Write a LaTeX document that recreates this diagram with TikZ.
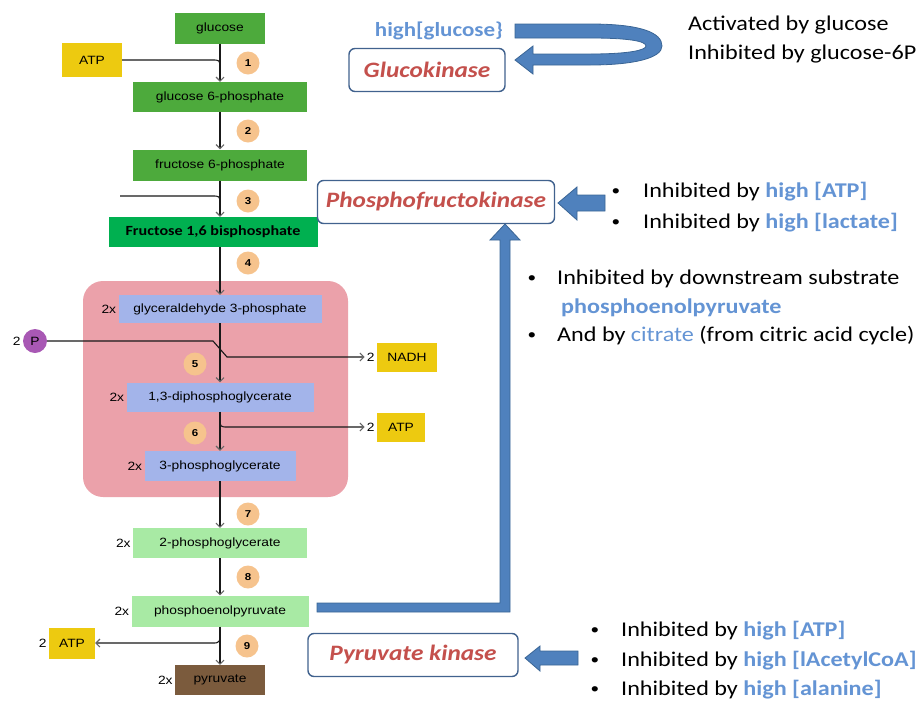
\documentclass[tikz,border=0pt]{standalone}
\usepackage{fontspec}
\usepackage{xcolor}
\usepackage{tikz}
\usetikzlibrary{positioning,calc,arrows.meta}

\newfontfamily\notefont[FakeStretch=1.15]{Carlito}
\newfontfamily\boxfont[FakeStretch=1.15]{Liberation Sans}

\definecolor{glcgreen}{HTML}{4DAA3C}
\definecolor{fbpgreen}{HTML}{00B050}
\definecolor{palegreen}{HTML}{A8EAA4}
\definecolor{atpyellow}{HTML}{EDCA10}
\definecolor{stepbg}{HTML}{F6C38D}
\definecolor{pibg}{HTML}{A858B4}
\definecolor{pinkbg}{HTML}{EBA1AA}
\definecolor{lavender}{HTML}{A3B4EA}
\definecolor{pyrbrown}{HTML}{7B5B3D}
\definecolor{enzred}{HTML}{C4504C}
\definecolor{enzline}{HTML}{41628E}
\definecolor{hiblue}{HTML}{6494D4}
\definecolor{arrowfill}{HTML}{4F81BD}
\definecolor{arrowline}{HTML}{3A6595}

\tikzset{
  mol/.style={minimum height=30pt, inner sep=2pt, text=black, font=\boxfont\fontsize{12}{14}\selectfont},
  stepnum/.style={circle, fill=stepbg, minimum size=23pt, inner sep=0pt, font=\boxfont\bfseries\fontsize{10}{12}\selectfont},
  flow/.style={black!90, line width=1.1pt, -{Straight Barb[length=4pt,width=8pt,color=black!60]}},
  feed/.style={black!90, line width=1.1pt},
  count/.style={inner sep=2pt, text=black, font=\boxfont\fontsize{12}{14}\selectfont},
  enzyme/.style={draw=enzline, line width=1.4pt, rounded corners=6pt, fill=white, minimum height=43pt, text=enzred, font=\notefont\bfseries\itshape\fontsize{22}{26}\selectfont},
  note/.style={anchor=west, inner sep=0pt, font=\notefont\fontsize{21}{25}\selectfont},
  dot/.style={inner sep=0pt, font=\notefont\fontsize{15}{18}\selectfont},
  blockarrow/.style={fill=arrowfill, draw=arrowline, line width=0.8pt},
}
\newcommand{\hi}[1]{\textcolor{hiblue}{\bfseries #1}}

\begin{document}
\begin{tikzpicture}[x=1pt, y=-1pt]
    \useasboundingbox (0,0) rectangle (919,702);

    % Pay-off phase background
    \fill[pinkbg, rounded corners=20pt] (83,281) rectangle (348,497);

    % Molecules
    \node[mol, fill=glcgreen, minimum width=90pt, minimum height=31pt] (glc) at (220,28) {glucose};
    \node[mol, fill=atpyellow, minimum width=60pt, minimum height=34pt] (atpa) at (92,60) {ATP};
    \node[mol, fill=glcgreen, minimum width=174pt] (g6p) at (220,97) {glucose 6-phosphate};
    \node[mol, fill=glcgreen, minimum width=174pt, minimum height=31pt] (f6p) at (220,165) {fructose 6-phosphate};
    \node[mol, fill=fbpgreen, minimum width=209pt, font=\notefont\bfseries\fontsize{14}{16}\selectfont] (fbp) at (213,232) {Fructose 1,6 bisphosphate};
    \node[mol, fill=lavender, minimum width=203pt, minimum height=28pt, label={[count]left:2x}] (gap) at (220,309) {glyceraldehyde 3-phosphate};
    \node[circle, fill=pibg, minimum size=24pt, inner sep=0pt, font=\boxfont\fontsize{12}{14}\selectfont, label={[count]left:2}] (pi) at (35,341) {P};
    \node[mol, fill=atpyellow, minimum width=60pt, minimum height=29pt, label={[count,name=n2]left:2}] (nadh) at (407,357) {NADH};
    \node[mol, fill=lavender, minimum width=187pt, minimum height=29pt, label={[count]left:2x}] (bpg) at (220,397) {1,3-diphosphoglycerate};
    \node[mol, fill=atpyellow, minimum width=48pt, minimum height=29pt, label={[count,name=m2]left:2}] (atpb) at (401,427) {ATP};
    \node[mol, fill=lavender, minimum width=151pt, label={[count]left:2x}] (pga3) at (220,466) {3-phosphoglycerate};
    \node[mol, fill=palegreen, minimum width=174pt, label={[count]left:2x}] (pga2) at (220,543) {2-phosphoglycerate};
    \node[mol, fill=palegreen, minimum width=177pt, minimum height=31pt, label={[count]left:2x}] (pep) at (220,611) {phosphoenolpyruvate};
    \node[mol, fill=atpyellow, minimum width=46pt, minimum height=31pt, label={[count]left:2}] (atpc) at (72,643) {ATP};
    \node[mol, fill=pyrbrown, minimum width=90pt, label={[count]left:2x}] (pyr) at (220,680) {pyruvate};

    % Step numbers
    \node[stepnum] (s1) at (248,63) {1};
    \node[stepnum] (s2) at (248,131) {2};
    \node[stepnum] (s3) at (248,201) {3};
    \node[stepnum] (s4) at (248,263) {4};
    \node[stepnum] (s5) at (195,364) {5};
    \node[stepnum] (s6) at (195,433) {6};
    \node[stepnum] (s7) at (248,514) {7};
    \node[stepnum] (s8) at (248,577) {8};
    \node[stepnum] (s9) at (247,646) {9};

    % Join points
    \coordinate (k1) at (212,60);
    \coordinate (j1) at (220,69);
    \coordinate (in3) at (120,196);
    \coordinate (k3) at (212,196);
    \coordinate (j3) at (220,205);
    \coordinate (k5) at (213,341);
    \coordinate (j5) at (227,357);
    \coordinate (j6) at (220,418);
    \coordinate (k6) at (228,427);
    \coordinate (j9) at (220,630);
    \coordinate (k9) at (212,643);

    % Reactions
    \draw[flow] (glc.south) -- (glc.south |- g6p.north);
    \draw[feed] (atpa.east) -- (k1) .. controls (j1 |- k1) .. (j1);
    \draw[flow] (g6p.south) -- (g6p.south |- f6p.north);
    \draw[flow] (f6p.south) -- (f6p.south |- fbp.north);
    \draw[feed] (in3) -- (k3) .. controls (j3 |- k3) .. (j3);
    \draw[flow] (fbp.south -| f6p.south) -- (f6p.south |- gap.north);
    \draw[flow] (gap.south) -- (gap.south |- bpg.north);
    \draw[flow] (pi.east) -- (k5) -- (j5) -- (n2.west);
    \draw[flow] (bpg.south) -- (bpg.south |- pga3.north);
    \draw[flow] (j6) .. controls (j6 |- k6) .. (k6) -- (m2.west);
    \draw[flow] (pga3.south) -- (pga3.south |- pga2.north);
    \draw[flow] (pga2.south) -- (pga2.south |- pep.north);
    \draw[flow] (pep.south) -- (pep.south |- pyr.north);
    \draw[flow] (j9) .. controls (j9 |- k9) .. (k9) -- (atpc.east);

    % Enzymes
    \node[font=\notefont\bfseries\fontsize{20}{24}\selectfont, text=hiblue, inner sep=0pt] (hg) at (439,31) {high[glucose\}};
    \node[enzyme, minimum width=156pt] (gk) at (427,70) {Glucokinase};
    \node[enzyme, minimum width=237pt] (pfk) at (436,202) {Phosphofructokinase};
    \node[enzyme, minimum width=210pt] (pk) at (413,655) {Pyruvate kinase};

    % Regulation arrows
    \draw[blockarrow] (515,24) -- (590,24) .. controls (642,24) and (662,33) .. (662,46)
        .. controls (662,58) and (634,65) .. (590,65) -- (533,65) -- (533,74) -- (515,60)
        -- (533,46) -- (533,54) -- (590,54) .. controls (630,54) and (646,50) .. (646,46)
        .. controls (646,41) and (628,38) .. (590,38) -- (515,38) -- cycle;
    \draw[blockarrow] (605,195) -- (577,195) -- (577,187) -- (558,203) -- (577,220) -- (577,211) -- (605,211) -- cycle;
    \draw[blockarrow] (578,651) -- (540,651) -- (540,646) -- (525,658) -- (540,671) -- (540,665) -- (578,665) -- cycle;
    \draw[blockarrow] (317,603) -- (500,603) -- (500,240) -- (490,240) -- (505,224) -- (520,240) -- (510,240) -- (510,612) -- (317,612) -- cycle;

    % Notes
    \node[note] (ac) at (688,25) {Activated by glucose};
    \node[note] (ig) at (688,54) {Inhibited by glucose-6P};

    \node[dot] at (616,192) {\textbullet};
    \node[note] (pf1) at (643,192) {Inhibited by \hi{high [ATP]}};
    \node[dot] at (616,223) {\textbullet};
    \node[note] (pf2) at (643,223) {Inhibited by \hi{high [lactate]}};

    \node[dot] at (532,279) {\textbullet};
    \node[note] (ds1) at (557,279) {Inhibited by downstream substrate};
    \node[note] (ds2) at (561,308) {\hi{phosphoenolpyruvate}};
    \node[dot] at (532,336) {\textbullet};
    \node[note] (ds3) at (557,336) {And by \textcolor{hiblue}{citrate} (from citric acid cycle)};

    \node[dot] at (595,631) {\textbullet};
    \node[note] (pk1) at (621,631) {Inhibited by \hi{high [ATP]}};
    \node[dot] at (595,661) {\textbullet};
    \node[note] (pk2) at (621,661) {Inhibited by \hi{high [lAcetylCoA]}};
    \node[dot] at (595,690) {\textbullet};
    \node[note] (pk3) at (621,690) {Inhibited by \hi{high [alanine]}};
\end{tikzpicture}
\end{document}
